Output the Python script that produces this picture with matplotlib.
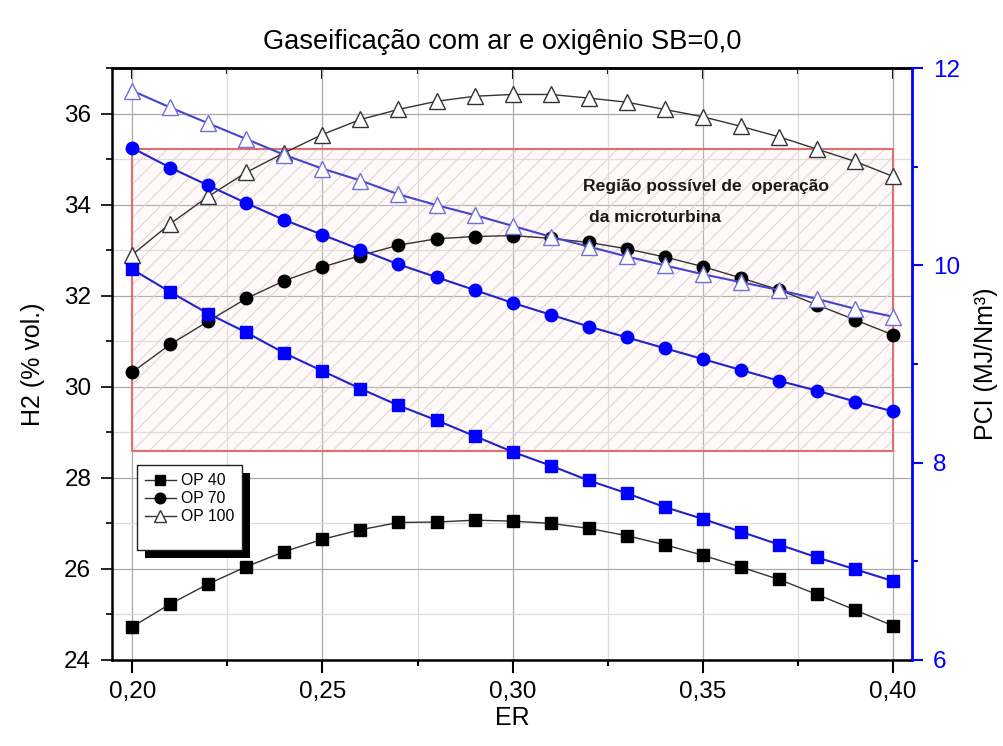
import matplotlib as mpl
mpl.rcParams['figure.dpi'] = 100

import matplotlib.pyplot as plt
from matplotlib.patches import Rectangle
from matplotlib.ticker import MultipleLocator, FuncFormatter
from matplotlib.transforms import IdentityTransform

plt.rcParams['font.family'] = ['Liberation Sans', 'DejaVu Sans']
plt.rcParams['hatch.linewidth'] = 0.8

# ER values
er = [0.20, 0.21, 0.22, 0.23, 0.24, 0.25, 0.26, 0.27, 0.28, 0.29, 0.30,
      0.31, 0.32, 0.33, 0.34, 0.35, 0.36, 0.37, 0.38, 0.39, 0.40]

# H2 (% vol.)  -> left axis
h2_op40 = [24.73, 25.23, 25.67, 26.05, 26.38, 26.65, 26.86, 27.02, 27.03, 27.07, 27.05,
           27.00, 26.89, 26.73, 26.53, 26.30, 26.04, 25.77, 25.44, 25.10, 24.75]
h2_op70 = [30.32, 30.93, 31.44, 31.94, 32.33, 32.63, 32.88, 33.11, 33.25, 33.30, 33.32,
           33.26, 33.17, 33.03, 32.85, 32.64, 32.39, 32.13, 31.80, 31.47, 31.14]
h2_op100 = [32.90, 33.58, 34.18, 34.71, 35.14, 35.54, 35.87, 36.09, 36.27, 36.38, 36.42,
            36.42, 36.34, 36.25, 36.09, 35.93, 35.72, 35.49, 35.22, 34.95, 34.62]

# PCI (MJ/Nm3) -> right axis
pci_op40 = [9.96, 9.73, 9.51, 9.32, 9.11, 8.93, 8.75, 8.58, 8.43, 8.27, 8.11,
            7.97, 7.82, 7.69, 7.55, 7.43, 7.30, 7.17, 7.04, 6.92, 6.80]
pci_op70 = [11.19, 10.99, 10.81, 10.63, 10.46, 10.31, 10.16, 10.01, 9.88, 9.75, 9.62,
            9.50, 9.38, 9.27, 9.16, 9.05, 8.94, 8.83, 8.73, 8.62, 8.52]
pci_op100 = [11.77, 11.60, 11.44, 11.28, 11.12, 10.98, 10.86, 10.72, 10.61, 10.51, 10.40,
             10.29, 10.19, 10.09, 10.00, 9.91, 9.83, 9.75, 9.66, 9.56, 9.48]

labels = ['OP 40', 'OP 70', 'OP 100']

# operating region of the microturbine (ER range, PCI range)
reg_er = [0.20, 0.40]
reg_pci = [8.12, 11.18]

blue = '#0000ff'

fig = plt.figure(figsize=(10.04, 7.46))
ax = fig.add_axes([0.1116, 0.1153, 0.7968, 0.7935])
ax2 = ax.twinx()

# black H2 curves
l1, = ax.plot(er, h2_op40, '-', color='#333333', lw=1, marker='s', ms=8,
              mfc='black', mec='black', label=labels[0], zorder=3)
l2, = ax.plot(er, h2_op70, '-', color='#333333', lw=1, marker='o', ms=9,
              mfc='black', mec='black', label=labels[1], zorder=3)
l3, = ax.plot(er, h2_op100, '-', color='#333333', lw=1, marker='^', ms=11,
              mfc='white', mec='#333333', mew=1, label=labels[2], zorder=3)

# blue PCI curves
ax2.plot(er, pci_op40, '-', color='#2222cc', lw=1.5, marker='s', ms=8,
         mfc=blue, mec=blue, zorder=3)
ax2.plot(er, pci_op70, '-', color='#2222cc', lw=1.5, marker='o', ms=9,
         mfc=blue, mec=blue, zorder=3)
ax2.plot(er, pci_op100, '-', color='#4444cc', lw=1.5, marker='^', ms=11,
         mfc='white', mec='#7070d8', mew=1, zorder=3)

# hatched region
ax.add_patch(Rectangle((reg_er[0], reg_pci[0]), reg_er[1] - reg_er[0], reg_pci[1] - reg_pci[0],
                       transform=ax2.transData, facecolor=(1, 0.9, 0.88, 0.18),
                       edgecolor='#e2d6d2', hatch='//', lw=0, zorder=1))
ax.add_patch(Rectangle((reg_er[0], reg_pci[0]), reg_er[1] - reg_er[0], reg_pci[1] - reg_pci[0],
                       transform=ax2.transData, fill=False, edgecolor='#e07070',
                       lw=1.5, zorder=1.1))

ax2.text(0.3185, 10.80, 'Região possível de  operação', fontsize=12.6, fontweight='bold',
         va='center', ha='left', color='#1a1a1a')
ax2.text(0.320, 10.48, 'da microturbina', fontsize=12.6, fontweight='bold',
         va='center', ha='left', color='#1a1a1a')

# axes limits / ticks
ax.set_xlim(0.1947, 0.405)
ax.set_ylim(24, 37)
ax2.set_ylim(6, 12)

ax.xaxis.set_major_locator(MultipleLocator(0.05))
ax.xaxis.set_minor_locator(MultipleLocator(0.025))
ax.yaxis.set_major_locator(MultipleLocator(2))
ax.yaxis.set_minor_locator(MultipleLocator(1))
ax2.yaxis.set_major_locator(MultipleLocator(2))
ax2.yaxis.set_minor_locator(MultipleLocator(1))
ax.xaxis.set_major_formatter(FuncFormatter(lambda v, p: f"{v:.2f}".replace('.', ',')))
ax.yaxis.set_major_formatter(FuncFormatter(lambda v, p: f"{v:.0f}"))
ax2.yaxis.set_major_formatter(FuncFormatter(lambda v, p: f"{v:.0f}"))

ax.grid(True, which='major', color='#a8a8a8', lw=0.9)
ax.grid(True, which='minor', color='#dcdcdc', lw=0.9)
ax.set_axisbelow(True)

ax.tick_params(axis='x', which='major', direction='out', length=9, width=1.5,
               labelsize=17.5, pad=6)
ax.tick_params(axis='x', which='minor', direction='out', length=4, width=1.5)
ax.tick_params(axis='y', which='major', direction='out', length=8, width=1.2,
               labelsize=17.5, pad=7)
ax.tick_params(axis='y', which='minor', direction='out', length=4, width=1.2)
ax2.tick_params(axis='y', which='major', direction='out', length=8, width=1.5,
                labelsize=17.5, colors=blue, pad=7)
ax2.tick_params(axis='y', which='minor', direction='out', length=4, width=1.5, colors=blue)

# top axis: inward ticks, no labels
top = ax.secondary_xaxis('top')
top.xaxis.set_major_locator(MultipleLocator(0.05))
top.xaxis.set_minor_locator(MultipleLocator(0.025))
top.tick_params(axis='x', which='major', direction='in', length=8, width=1.5, labeltop=False)
top.tick_params(axis='x', which='minor', direction='in', length=4, width=1.5)
top.spines['top'].set_linewidth(1.8)

for s in ['left', 'bottom', 'top']:
    ax.spines[s].set_linewidth(1.8)
ax2.spines['right'].set_color(blue)
ax2.spines['right'].set_linewidth(2)
for s in ['left', 'bottom', 'top']:
    ax2.spines[s].set_visible(False)

ax.set_xlabel('ER', fontsize=18, labelpad=2)
ax.set_ylabel('H2 (% vol.)', fontsize=18, labelpad=14)
ax2.set_ylabel('PCI (MJ/Nm³)', fontsize=18, labelpad=10, color='black')
fig.suptitle('Gaseificação com ar e oxigênio SB=0,0', fontsize=19.6, y=0.961)

# legend with solid shadow
blank, = ax.plot([], [], ls='none')
leg = ax2.legend([l1, l2, l3, blank], labels + [' '], loc='upper left',
                 bbox_to_anchor=(0.031, 0.329), borderaxespad=0, fontsize=11.3,
                 fancybox=False, framealpha=1, edgecolor='#222222',
                 handlelength=2.0, handletextpad=0.3, labelspacing=0.2, borderpad=0.5,
                 markerscale=0.85)
leg.get_frame().set_linewidth(1)
leg.set_zorder(6)

fig.canvas.draw()
bb = leg.get_window_extent()
ax2.add_artist(Rectangle((bb.x0 + 8, bb.y0 - 8), bb.width, bb.height,
                         transform=IdentityTransform(), facecolor='black',
                         edgecolor='none', zorder=5.5, clip_on=False))

plt.savefig('out.png', dpi=100)
